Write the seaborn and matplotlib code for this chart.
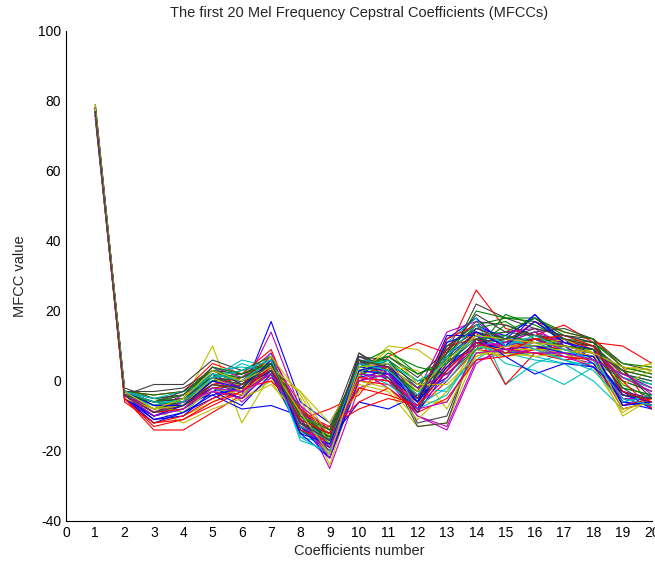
import numpy as np
import pandas as pd
import matplotlib
matplotlib.use('Agg')
import matplotlib.pyplot as plt
import seaborn as sns

# %% Data: MFCC frames (coefficients 1..20)
coef_numbers = list(range(1, 21))

frames_a = [
    [77, -4, -8, -6, -2, -4, 17, -6, -12, 3, 2, -6, 6, 14, 10, 12, 8, 4, -6, -4],
    [79, -3, -5, -4, 2, 1, 4, -10, -15, 5, 6, -2, 4, 10, 12, 14, 9, 8, 1, -2],
    [76, -5, -14, -14, -9, -4, 3, -12, -18, 0, 4, -8, 0, 9, 8, 10, 9, 7, -5, -7],
    [78, -3, -6, -5, 1, 6, 4, -12, -17, 3, 2, -4, 8, 12, 5, 3, -1, 4, 2, 0],
    [75, -4, -9, -7, 0, -3, 14, -8, -25, -2, 1, -10, -13, 6, 8, 9, 7, 5, -4, -6],
    [77, -3, -7, -6, 10, -12, 2, -5, -24, 2, 10, 9, 3, 11, 9, 8, 7, 6, 3, 5],
    [78, -2, -5, -4, 3, 0, 6, -9, -14, 8, 2, -6, 5, 22, 18, 15, 13, 12, 5, 3],
]
frames_b = [
    [76, -5, -10, -8, -3, 0, 3, -14, -20, 1, 3, -9, 12, 18, 10, 19, 11, 8, -6, -8],
    [77, -4, -9, -5, 4, -1, 2, -13, -16, 6, 0, -7, 10, 16, 18, 17, 12, 10, -1, -5],
    [78, -3, -4, -3, 5, 2, 9, -11, -8, -4, 7, 11, 8, 26, 15, 13, 16, 11, 10, 5],
    [79, -3, -7, -9, -2, -5, 5, -10, -17, 4, 4, -2, -3, 8, 9, 7, 5, 0, -8, -6],
    [77, -4, -8, -4, 1, 0, 7, -7, -19, 7, 3, -3, 14, 17, 11, 12, 9, 7, 0, -3],
    [75, -5, -11, -10, -6, -2, 1, -12, -21, -1, -3, -13, -12, 8, 7, 9, 8, 4, -9, -4],
    [78, -4, -1, -1, 6, 3, 5, -15, -13, 3, 5, -1, 6, 9, 11, 10, 9, 8, 4, 2],
]
frames_c = [
    [76, -4, -9, -6, -4, -8, -7, -10, -17, -6, -8, -4, 1, 12, 8, 8, 8, 6, -3, -5],
    [78, -3, -6, -7, -1, -3, 3, -11, -15, 2, 6, 0, 2, 10, 16, 13, 10, 9, 2, -1],
    [77, -5, -12, -11, -7, -3, 2, -9, -13, -8, -5, -7, 4, 14, 11, 17, 14, 12, 4, -8],
    [76, -4, -10, -8, -1, -2, 8, -16, -18, 5, 1, -5, 11, 18, -1, 5, 8, 6, -7, -5],
    [78, -3, -7, -5, 2, -6, 1, -7, -14, 3, -2, -8, 5, 13, 9, 11, 10, 8, 3, 1],
    [77, -4, -8, -12, -8, -5, 0, -13, -16, 4, 3, -6, -6, 7, 10, 11, 8, 9, 2, 4],
    [79, -3, -6, -5, 0, 1, 4, -9, -18, 7, 4, -12, -10, 11, 12, 9, 11, 10, -3, -6],
]
frames_d = [
    [77, -5, -12, -9, -5, -1, 5, -13, -22, 2, 1, -9, 3, 15, 13, 18, 12, 6, -5, -7],
    [76, -3, -4, -3, 1, 2, 6, -8, -17, 5, 9, 2, 6, 20, 18, 18, 13, 11, 5, 4],
    [78, -4, -9, -7, -2, -1, 7, -12, -15, 0, -1, -6, 9, 14, -1, 8, 6, 7, -4, -5],
    [77, -3, -8, -6, 3, 4, 3, -14, -19, 4, 2, -3, 0, 10, 8, 6, 5, 5, 1, -2],
    [78, -4, -10, -7, -3, -4, 4, -10, -16, 1, 0, -10, -14, 5, 10, 12, 9, 7, -6, -7],
    [76, -4, -6, -4, 0, -1, 2, -3, -12, 3, 5, -4, 4, 9, 7, 8, 9, 8, 3, 5],
    [77, -3, -7, -5, 2, -2, 3, -11, -20, 8, 3, -13, -12, 12, 11, 14, 15, 12, -4, -6],
]
frames_e = [
    [78, -5, -11, -10, -3, -7, 2, -15, -22, 0, 2, -8, 7, 16, 12, 19, 10, 5, -6, -7],
    [77, -3, -5, -6, 2, 0, 5, -12, -16, 6, 4, -2, 8, 15, 17, 12, 11, 10, 0, -3],
    [76, -4, -8, -6, -1, 1, 6, -13, -18, 2, 4, -5, 10, 12, 9, 8, 7, 6, -8, -6],
    [78, -4, -9, -8, -2, -3, 4, -16, -21, 3, -1, -7, -2, 6, 12, 10, 6, 4, -2, -4],
    [77, -3, -6, -4, 4, 1, 8, -9, -15, 6, 2, -4, 3, 11, 10, 10, 7, 4, -5, -5],
    [79, -4, -9, -7, -3, -5, -1, -10, -14, -3, 4, 3, -8, 8, 8, 7, 8, 6, -10, -5],
    [76, -3, -3, -2, 3, 2, 5, -11, -16, 5, 7, 1, 9, 17, 16, 13, 11, 10, 2, 0],
]
frames_f = [
    [77, -5, -10, -7, -2, -5, 3, -12, -17, 4, 3, -6, 13, 13, 7, 2, 5, 4, -3, -8],
    [78, -3, -7, -5, 1, 3, 7, -14, -19, 1, 8, 4, 2, 9, 19, 16, 12, 11, 4, 2],
    [77, -6, -12, -10, -5, -2, 0, -8, -14, -6, -2, -9, -5, 6, 7, 9, 10, 9, -7, -5],
    [76, -3, -5, -3, 0, 5, 2, -10, -18, 6, 5, 0, 5, 13, 11, 11, 8, 7, 1, -1],
    [78, -4, -8, -6, 1, -2, 6, -13, -20, 2, 1, -7, 1, 12, 14, 15, 10, 8, 3, -4],
    [77, -4, -7, -9, -2, -4, 4, -3, -16, 0, -2, -11, -3, 10, 9, 9, 9, 7, -1, 3],
    [78, -3, -6, -3, 3, -1, 5, -13, -17, 7, 6, -5, 7, 14, 12, 12, 10, 8, -2, -7],
]
frames_g = [
    [77, -4, -11, -9, -4, -2, 3, -13, -19, 3, 2, -6, 4, 11, 9, 10, 8, 7, -4, -6],
    [78, -3, -8, -6, 0, 1, 5, -10, -16, 5, 3, -3, 6, 13, 14, 18, 14, 12, -2, -4],
    [77, -4, -9, -8, -1, -2, 4, -14, -17, 1, 0, -5, 12, 16, 9, 12, 12, 9, 0, -8],
    [76, -4, -7, -5, 2, 0, 6, -17, -20, 4, 6, -8, -4, 9, 13, 9, 6, 3, -6, -4],
    [78, -3, -9, -6, -3, -5, 3, -11, -22, 5, 4, -2, 2, 10, 11, 14, 11, 9, 1, -3],
    [77, -5, -8, -7, 1, -3, 7, -4, -18, 2, 9, -1, -1, 7, 10, 10, 12, 8, -8, -6],
    [78, -4, -6, -5, 1, -1, 3, -12, -15, 6, 1, -9, 8, 19, 14, 13, 12, 10, 3, -5],
]
frames_h = [
    [77, -3, -7, -7, 0, -2, 6, -15, -18, 3, 5, -6, 11, 14, 10, 17, 11, 9, -7, -6],
    [76, -4, -6, -4, 4, 2, 5, -10, -14, 4, 7, 2, 5, 12, 13, 11, 10, 9, 3, 1],
    [78, -5, -13, -11, -6, -3, 4, -11, -15, -2, -4, -7, 3, 11, 8, 12, 13, 10, -3, -6],
    [77, -3, -6, -6, 1, 3, 6, -13, -17, 5, 3, -4, 7, 16, 10, 13, 9, 6, -5, -7],
    [76, -4, -10, -8, -2, -3, 2, -12, -19, 0, 2, -8, -6, 8, 9, 8, 8, 6, 2, -2],
    [78, -3, -8, -5, 3, 0, 4, -9, -21, 4, 5, -3, 6, 13, 12, 11, 10, 8, 4, 3],
    [77, -4, -9, -7, -1, -2, 5, -12, -17, 6, 4, -5, 10, 15, 12, 15, 13, 11, -4, -5],
]

# old MATLAB colour order
matlab_colors = ['#0000ff', '#008000', '#ff0000', '#00bfbf', '#bf00bf', '#bfbf00', '#404040']

# %% Long form table
all_frames = frames_a + frames_b + frames_c + frames_d + frames_e + frames_f + frames_g + frames_h
rows = []
for i, frame in enumerate(all_frames):
    for c, v in zip(coef_numbers, frame):
        rows.append({'frame': i, 'coef': c, 'value': v})
mfcc_df = pd.DataFrame(rows)

palette = [matlab_colors[i % 7] for i in range(len(all_frames))]

# %% Plot
sns.set_style('white')
plt.rcParams['font.family'] = ['Liberation Sans', 'DejaVu Sans']
plt.rcParams['axes.unicode_minus'] = False

fig = plt.figure(figsize=(6.55, 5.71), dpi=100)
ax = fig.add_axes([66 / 655, 50 / 571, 586 / 655, 490 / 571])

sns.lineplot(data=mfcc_df, x='coef', y='value', hue='frame', units='frame', estimator=None,
             palette=palette, legend=False, linewidth=0.8, ax=ax)

ax.set_xlim(0, 20)
ax.set_ylim(-40, 100)
ax.set_xticks(range(0, 21))
ax.set_yticks(range(-40, 101, 20))
ax.tick_params(direction='in', length=4, width=0.8, labelsize=10, colors='black')
for side in ['top', 'right']:
    ax.spines[side].set_visible(False)
for side in ['left', 'bottom']:
    ax.spines[side].set_color('black')
    ax.spines[side].set_linewidth(0.8)

ax.set_title('The first 20 Mel Frequency Cepstral Coefficients (MFCCs)', fontsize=10.5, pad=10)
ax.set_xlabel('Coefficients number', fontsize=10.5, labelpad=3)
ax.set_ylabel('MFCC value', fontsize=10.5, labelpad=8)

fig.savefig('out.png', dpi=100)
